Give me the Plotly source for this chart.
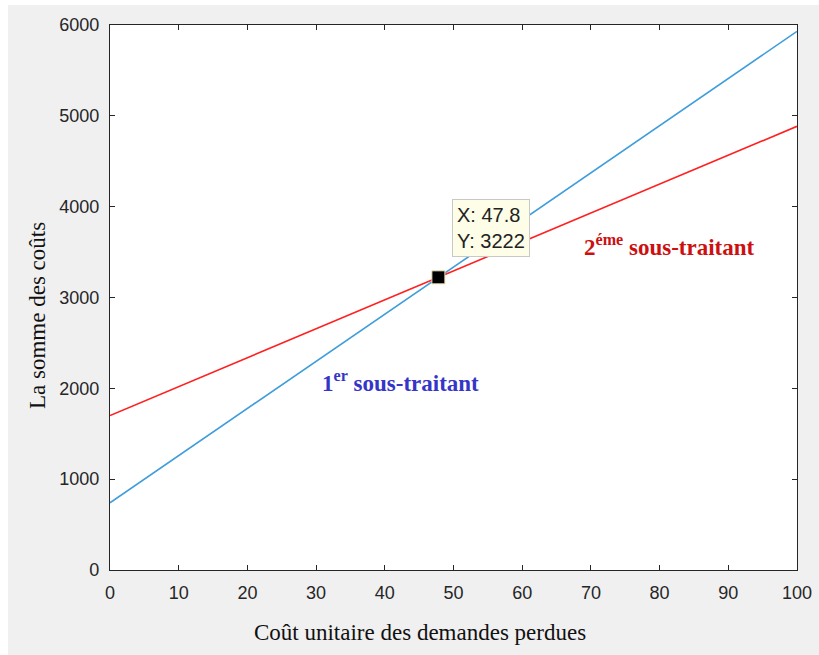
import plotly.graph_objects as go

# Coût unitaire des demandes perdues (axe x) et somme des coûts pour chaque sous-traitant
cout_unitaire = [0, 100]
somme_1er = [740, 5930]
somme_2eme = [1700, 4885]

# Point d'intersection signalé par l'infobulle
pt_x = [47.8]
pt_y = [3222]

x_ticks = [0, 10, 20, 30, 40, 50, 60, 70, 80, 90, 100]
y_ticks = [0, 1000, 2000, 3000, 4000, 5000, 6000]

W, H = 819, 655
L, R, T, B = 110, 22, 25, 85
pw, ph = W - L - R, H - T - B

def px(xp):
    return (xp - L) / pw

def py(yp):
    return (H - B - yp) / ph

fig = go.Figure()

fig.add_trace(go.Scatter(x=cout_unitaire, y=somme_1er, mode="lines",
                         line=dict(color="#3f9ddb", width=1.6), showlegend=False))
fig.add_trace(go.Scatter(x=cout_unitaire, y=somme_2eme, mode="lines",
                         line=dict(color="#ff2020", width=1.6), showlegend=False))
fig.add_trace(go.Scatter(x=pt_x, y=pt_y, mode="markers",
                         marker=dict(symbol="square", size=13, color="black",
                                     line=dict(color="#e8e0b0", width=1)),
                         showlegend=False))

axis_common = dict(
    showgrid=False, zeroline=False, showline=True, linecolor="#262626", linewidth=1.2,
    mirror="ticks", ticks="inside", ticklen=5, tickcolor="#262626",
    ticklabelstandoff=6, automargin=False,
    tickfont=dict(family="Liberation Sans, Arial", size=18, color="#262626"),
)

title_font = dict(family="Liberation Serif, Times New Roman", size=23, color="#111")

fig.update_layout(
    width=W, height=H,
    margin=dict(l=L, r=R, t=T, b=B),
    paper_bgcolor="#f0f0f0", plot_bgcolor="white",
    xaxis=dict(range=[0, 100], tickvals=x_ticks, **axis_common),
    yaxis=dict(range=[0, 6000], tickvals=y_ticks, **axis_common),
    # thin white border at the left and top edges of the figure
    shapes=[
        dict(type="rect", xref="paper", yref="paper",
             x0=px(-10), x1=px(8), y0=py(H + 10), y1=py(-10),
             fillcolor="white", line=dict(width=0)),
        dict(type="rect", xref="paper", yref="paper",
             x0=px(-10), x1=px(W + 10), y0=py(5), y1=py(-10),
             fillcolor="white", line=dict(width=0)),
    ],
    annotations=[
        # axis titles
        dict(x=px(420), y=py(632), xref="paper", yref="paper", showarrow=False,
             xanchor="center", yanchor="middle",
             text="Coût unitaire des demandes perdues", font=title_font),
        dict(x=px(37), y=py(316), xref="paper", yref="paper", showarrow=False,
             xanchor="center", yanchor="middle", textangle=-90,
             text="La somme des coûts", font=title_font),
        # curve labels
        dict(x=px(400), y=py(381), xref="paper", yref="paper", showarrow=False,
             xanchor="center", yanchor="middle",
             text="<b>1<sup>er</sup> sous-traitant</b>",
             font=dict(family="Liberation Serif, Times New Roman", size=23, color="#3535c8")),
        dict(x=px(669), y=py(245), xref="paper", yref="paper", showarrow=False,
             xanchor="center", yanchor="middle",
             text="<b>2<sup>éme</sup> sous-traitant</b>",
             font=dict(family="Liberation Serif, Times New Roman", size=23, color="#cc1010")),
        # data tip at the intersection
        dict(x=px(452), y=py(199), xref="paper", yref="paper", xanchor="left", yanchor="top",
             showarrow=False, align="left",
             text=f"X: {pt_x[0]}<br>Y: {pt_y[0]}",
             font=dict(family="Liberation Sans, Arial", size=20, color="#222"),
             bgcolor="#fdfde8", bordercolor="#c8c8c8", borderwidth=1, borderpad=4),
    ],
)

fig.write_html("out.html")
